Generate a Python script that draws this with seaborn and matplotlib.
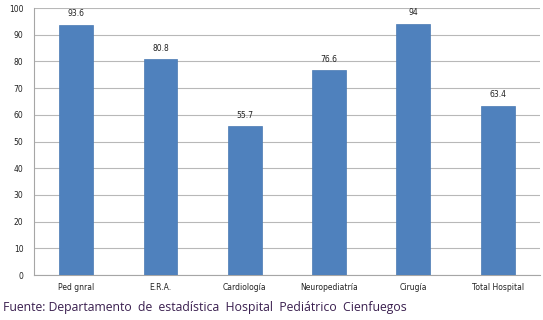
import pandas as pd
import numpy as np
import matplotlib.pyplot as plt
import seaborn as sns

servicios = ['Ped gnral', 'E.R.A.', 'Cardiología', 'Neuropediatría', 'Cirugía', 'Total Hospital']
valores = [93.6, 80.8, 55.7, 76.6, 94, 63.4]
etiquetas = ['93.6', '80.8', '55.7', '76.6', '94', '63.4']

df = pd.DataFrame({'servicio': servicios, 'valor': valores})

sns.set_style('white')
plt.rcParams['font.family'] = ['DejaVu Sans']

fig = plt.figure(figsize=(5.43, 3.2), dpi=100)
ax = fig.add_axes([0.0626, 0.1406, 0.9315, 0.8344])

sns.barplot(data=df, x='servicio', y='valor', color='#4f81bd', saturation=1,
            width=0.4, ax=ax, zorder=3, edgecolor='#4a7ab3', linewidth=0.5)

# value labels above bars
for i, v in enumerate(valores):
    ax.text(i, v + 2.5, etiquetas[i], ha='center', va='bottom', fontsize=5.5, color='#222222')

ax.set_ylim(0, 100)
ax.set_xlim(-0.5, len(servicios) - 0.5)
ax.set_yticks(np.arange(0, 101, 10))
ax.yaxis.grid(True, color='#b8b8b8', linewidth=0.8, zorder=0)
ax.set_xlabel('')
ax.set_ylabel('')

for s in ['top', 'right']:
    ax.spines[s].set_visible(False)
ax.spines['left'].set_color('#a6a6a6')
ax.spines['bottom'].set_color('#a6a6a6')

ax.set_xticks(np.arange(-0.5, len(servicios), 1), minor=True)
ax.tick_params(axis='x', which='major', length=0, labelsize=5.5, pad=6, colors='#222222')
ax.tick_params(axis='x', which='minor', length=4, color='#a6a6a6', direction='out')
ax.tick_params(axis='y', length=4, color='#a6a6a6', labelsize=5.5, colors='#222222', direction='out')

fig.text(0.006, 0.027, 'Fuente: Departamento  de  estadística  Hospital  Pediátrico  Cienfuegos',
         fontsize=8.8, color='#3a1f4f', family='Open Sans')

plt.savefig('out.png', dpi=100)
plt.close()
